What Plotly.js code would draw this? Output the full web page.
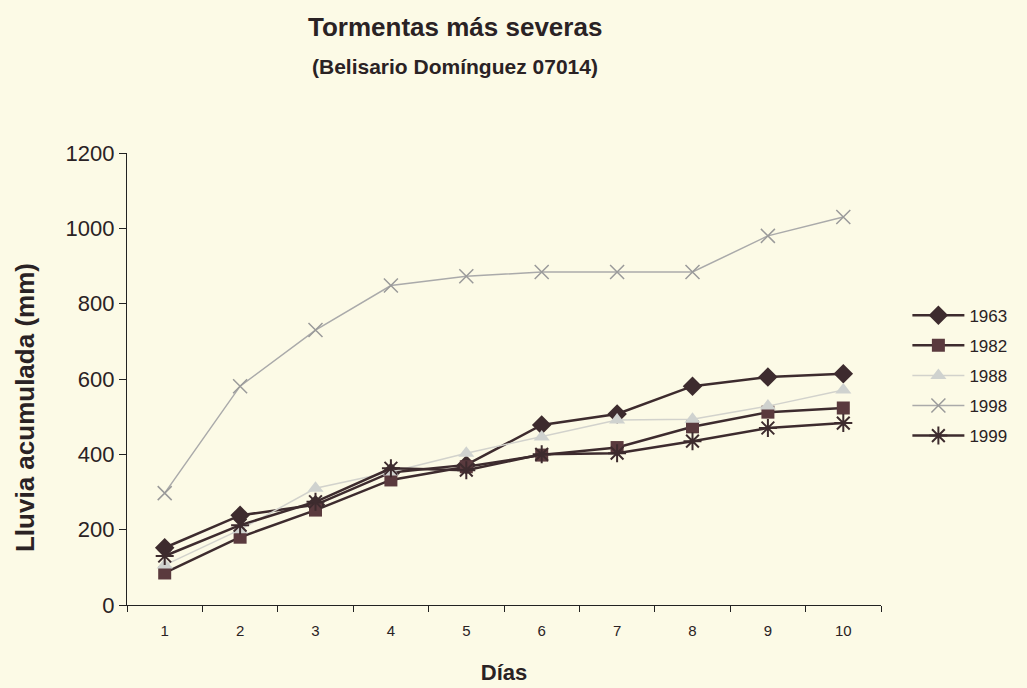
<!DOCTYPE html>
<html><head><meta charset="utf-8">
<script src="https://cdn.plot.ly/plotly-3.0.1.min.js"></script>
<style>body{margin:0;background:#fcfae6}</style>
</head><body><div id="chart" style="width:1027px;height:688px"></div>
<script>
const days = ["1","2","3","4","5","6","7","8","9","10"];
const s1963 = [152, 238, 266, 352, 372, 478, 507, 581, 605, 614];
const s1982 = [85, 180, 252, 332, 367, 398, 418, 473, 512, 523];
const s1988 = [106, 200, 310, 353, 403, 446, 491, 493, 528, 571];
const s1998 = [297, 581, 730, 848, 873, 884, 884, 884, 980, 1030];
const s1999 = [130, 212, 274, 363, 358, 400, 403, 435, 470, 483];

const dark = '#3d2b2e';
const traces = [
  {name:'1963', y:s1963, line:{color:dark,width:2.5}, marker:{symbol:'diamond',size:15,color:dark}},
  {name:'1982', y:s1982, line:{color:dark,width:2.5}, marker:{symbol:'square',size:13,color:'#5a3a3e'}},
  {name:'1988', y:s1988, line:{color:'#d2d2cc',width:1.5}, marker:{symbol:'triangle-up',size:14,color:'#cfd2cf'}},
  {name:'1998', y:s1998, line:{color:'#aaaaaa',width:1.5}, marker:{symbol:'x-thin-open',size:14,color:'#9a9a9a',line:{width:1.5,color:'#9a9a9a'}}},
  {name:'1999', y:s1999, line:{color:dark,width:2.5}, marker:{symbol:'asterisk-open',size:15,color:dark,line:{width:2,color:dark}}}
].map(t => Object.assign({x:days, type:'scatter', mode:'lines+markers', legendgroup:t.name}, t));

const layout = {
  width:1027, height:688,
  paper_bgcolor:'#fcfae6', plot_bgcolor:'#fcfae6',
  margin:{l:127, r:146, t:153, b:83},
  font:{family:'Liberation Sans, Arial, sans-serif', color:'#2a2224'},
  showlegend:true,
  legend:{x:1.035, y:0.68, xanchor:'left', yanchor:'top', font:{size:17,color:'#2a2224'}, itemwidth:52, tracegroupgap:5, bgcolor:'rgba(0,0,0,0)'},
  xaxis:{type:'category', range:[-0.5,9.5], tickson:'boundaries', ticks:'outside', ticklen:6, tickcolor:'#222',
    showline:true, linecolor:'#222', linewidth:1.2, showgrid:false, zeroline:false, ticklabelstandoff:12,
    tickfont:{size:15}, title:{text:'Días', font:{size:22, weight:'bold'}, standoff:26}},
  yaxis:{range:[0,1200], dtick:200, ticks:'outside', ticklen:7, tickcolor:'#222',
    showline:true, linecolor:'#222', linewidth:1.2, showgrid:false, zeroline:false,
    tickfont:{size:22}},
  annotations:[
    {text:'<b>Tormentas más severas</b>', xref:'paper', yref:'paper', x:0.435, y:1.0, yshift:143, showarrow:false, font:{size:26}},
    {text:'<b>(Belisario Domínguez 07014)</b>', xref:'paper', yref:'paper', x:0.435, y:1.0, yshift:100, showarrow:false, font:{size:21}},
    {text:'<b>Lluvia acumulada (mm)</b>', xref:'paper', yref:'paper', x:-0.1353, y:0.438, xanchor:'center', yanchor:'middle', textangle:-90, showarrow:false, font:{size:26}}
  ]
};
Plotly.newPlot('chart', traces, layout, {displayModeBar:false});
</script></body></html>
